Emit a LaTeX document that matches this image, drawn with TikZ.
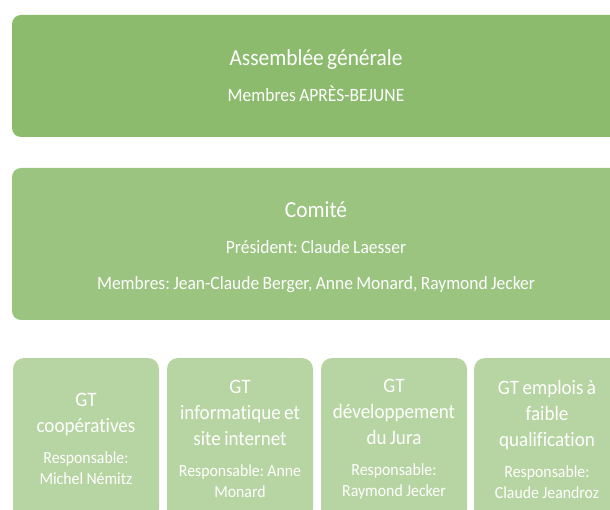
\documentclass[tikz,border=0pt]{standalone}
\usepackage{fontspec}
\setmainfont{Carlito}[FakeStretch=0.93, RawFeature={-liga}]
\frenchspacing
\definecolor{agcol}{RGB}{141,187,110}
\definecolor{comcol}{RGB}{155,196,128}
\definecolor{gtcol}{RGB}{183,213,162}
\tikzset{
  bigbox/.style={rounded corners=9pt, inner sep=0pt, text=white, align=center,
    minimum width=608pt, text width=560pt},
  txt/.style={inner sep=0pt, text=white, align=center, text width=560pt},
  gtbox/.style={rounded corners=11pt, inner sep=0pt, text=white, align=center,
    fill=gtcol, minimum width=146pt, text width=142pt, minimum height=162pt},
}
\newcommand{\gttitle}[1]{{\fontsize{20.5}{26}\selectfont #1\par}\vspace{10pt}}
\newcommand{\gtresp}[1]{{\fontsize{17}{21}\selectfont #1\par}}
\begin{document}
\begin{tikzpicture}[x=1pt,y=-1pt]
\clip (0,0) rectangle (610,510);
\fill[white] (0,0) rectangle (610,510);
\node[bigbox, fill=agcol, minimum height=122pt] (ag) at (316,76)
  {{\fontsize{23}{36}\selectfont Assemblée générale\par}{\fontsize{18.8}{36}\selectfont Membres APRÈS-BEJUNE\par}};
\node[bigbox, fill=comcol, minimum height=152pt] (com) at (316,244) {};
\node[txt] (comtxt) at (316,247)
  {{\fontsize{23}{36}\selectfont Comité\par}{\fontsize{18.8}{36}\selectfont Président: Claude Laesser\par Membres: Jean-Claude Berger, Anne Monard, Raymond Jecker\par}};
\node[gtbox] (gt1) at (86,439)
  {\gttitle{GT\\coopératives}\gtresp{Responsable:\\Michel Némitz}};
\node[gtbox] (gt2) at (240,439)
  {\gttitle{GT\\informatique et\\site internet}\gtresp{Responsable: Anne\\Monard}};
\node[gtbox] (gt3) at (394,439)
  {\gttitle{GT\\développement\\du Jura}\gtresp{Responsable:\\Raymond Jecker}};
\node[gtbox] (gt4) at (547,439)
  {\gttitle{GT emplois à\\faible\\qualification}\gtresp{Responsable:\\Claude Jeandroz}};
\end{tikzpicture}
\end{document}
